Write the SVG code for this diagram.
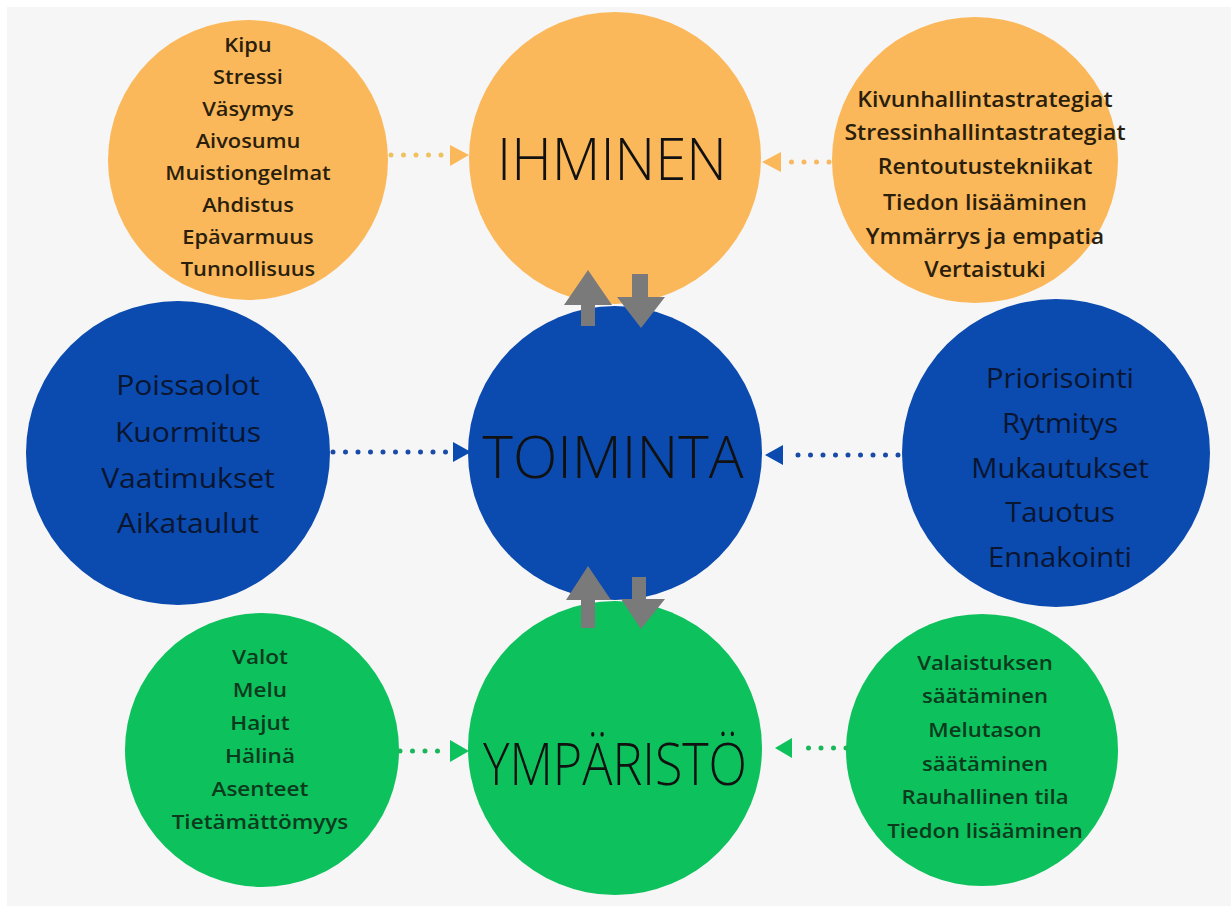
<svg xmlns="http://www.w3.org/2000/svg" width="1231" height="906" viewBox="0 0 1231 906">
<style>
.or{fill:#FBB85B}
.bl{fill:#0B4AAE}
.gr{fill:#0DC15C}
.t{font-family:"Open Sans","Liberation Sans",sans-serif;text-anchor:middle}
.to{fill:#2a1e0c;font-size:19.5px;font-weight:600}
.tb{fill:#0a1530;font-size:28px}
.tg{fill:#0b3a1c;font-size:20.5px;font-weight:600}
.title{font-family:"Open Sans","Liberation Sans",sans-serif;font-weight:300;font-size:58px;fill:#111;text-anchor:middle}
.dot{stroke-width:5;stroke-linecap:round;stroke-dasharray:0 12.5;fill:none}
.grey{fill:#7a7a7a}
</style>
<rect x="0" y="0" width="1231" height="906" fill="#ffffff"/>
<rect x="7" y="7" width="1224" height="899" fill="#f6f6f6"/>

<g id="ihminen"><circle class="or" cx="615" cy="158" r="146"/><text class="title" x="612" y="180" textLength="230" lengthAdjust="spacingAndGlyphs">IHMINEN</text></g>
<g id="ihminen-tekijat"><circle class="or" cx="248" cy="160" r="140"/>
<text class="t to" transform="matrix(1.12 0 0 1 -29.76 0)"><tspan x="248" y="52">Kipu</tspan><tspan x="248" y="84">Stressi</tspan><tspan x="248" y="116">Väsymys</tspan><tspan x="248" y="148">Aivosumu</tspan><tspan x="248" y="180">Muistiongelmat</tspan><tspan x="248" y="212">Ahdistus</tspan><tspan x="248" y="244">Epävarmuus</tspan><tspan x="248" y="276">Tunnollisuus</tspan></text></g>
<g id="ihminen-keinot"><circle class="or" cx="975" cy="160" r="143"/>
<text class="t to" style="font-size:21px" transform="matrix(1.1 0 0 1 -98.5 0)"><tspan x="985" y="107">Kivunhallintastrategiat</tspan><tspan x="985" y="140">Stressinhallintastrategiat</tspan><tspan x="985" y="174">Rentoutustekniikat</tspan><tspan x="985" y="210">Tiedon lisääminen</tspan><tspan x="985" y="244">Ymmärrys ja empatia</tspan><tspan x="985" y="277">Vertaistuki</tspan></text></g>

<g id="toiminta-tekijat"><circle class="bl" cx="178" cy="453" r="152"/>
<text class="t tb" transform="matrix(1.075 0 0 1 -14.1 0)"><tspan x="188" y="395">Poissaolot</tspan><tspan x="188" y="442">Kuormitus</tspan><tspan x="188" y="488">Vaatimukset</tspan><tspan x="188" y="533">Aikataulut</tspan></text></g>
<g id="toiminta-keinot"><circle class="bl" cx="1056" cy="453" r="154"/>
<text class="t tb" transform="matrix(1.04 0 0 1 -42.4 0)"><tspan x="1060" y="388">Priorisointi</tspan><tspan x="1060" y="433">Rytmitys</tspan><tspan x="1060" y="478">Mukautukset</tspan><tspan x="1060" y="522">Tauotus</tspan><tspan x="1060" y="567">Ennakointi</tspan></text></g>

<g id="ymparisto"><circle class="gr" cx="615" cy="748" r="147"/><text class="title" x="615" y="785" textLength="264" lengthAdjust="spacingAndGlyphs">YMPÄRISTÖ</text></g>
<g id="ymparisto-tekijat"><circle class="gr" cx="262" cy="750" r="137"/>
<text class="t tg" transform="matrix(1.1 0 0 1 -26 0)"><tspan x="260" y="664">Valot</tspan><tspan x="260" y="697">Melu</tspan><tspan x="260" y="730">Hajut</tspan><tspan x="260" y="763">Hälinä</tspan><tspan x="260" y="796">Asenteet</tspan><tspan x="260" y="829">Tietämättömyys</tspan></text></g>
<g id="ymparisto-keinot"><circle class="gr" cx="982" cy="750" r="136"/>
<text class="t tg" transform="matrix(1.08 0 0 1 -78.8 0)"><tspan x="985" y="670">Valaistuksen</tspan><tspan x="985" y="703">säätäminen</tspan><tspan x="985" y="737">Melutason</tspan><tspan x="985" y="771">säätäminen</tspan><tspan x="985" y="804">Rauhallinen tila</tspan><tspan x="985" y="838">Tiedon lisääminen</tspan></text></g>

<g id="toiminta"><circle class="bl" cx="615" cy="453" r="147"/><text class="title" x="613" y="478" textLength="261" lengthAdjust="spacingAndGlyphs">TOIMINTA</text></g>

<g id="connectors">
<line class="dot" x1="391" y1="155" x2="442" y2="155" stroke="#EEC25E"/>
<polygon points="450,145 469,155 450,166" fill="#FBB85B"/>
<line class="dot" x1="829" y1="162" x2="790" y2="162" stroke="#F8B860"/>
<polygon points="781,152 762,162 781,172" fill="#FBB85B"/>
<line class="dot" x1="333" y1="452" x2="446" y2="452" stroke="#1A4AA8"/>
<polygon points="453,442 471,452 453,462" fill="#0B4AAE"/>
<line class="dot" x1="898" y1="455" x2="786" y2="455" stroke="#1A4AA8"/>
<polygon points="783,445 765,455 783,465" fill="#0B4AAE"/>
<line class="dot" x1="400" y1="751" x2="444" y2="751" stroke="#18B85A"/>
<polygon points="450,740 469,751 450,762" fill="#0DC15C"/>
<line class="dot" x1="846" y1="748" x2="796" y2="748" stroke="#18B85A"/>
<polygon points="792,738 775,748 792,758" fill="#0DC15C"/>
<polygon class="grey" points="588,270 612,305 595,305 595,326 581,326 581,305 564,305"/>
<polygon class="grey" points="632,274 648,274 648,297 665,297 641,328 617,297 632,297"/>
<polygon class="grey" points="588,566 611,600 595,600 595,628 581,628 581,600 566,600"/>
<polygon class="grey" points="632,577 646,577 646,599 665,599 641,629 621,599 632,599"/>
</g>
</svg>
